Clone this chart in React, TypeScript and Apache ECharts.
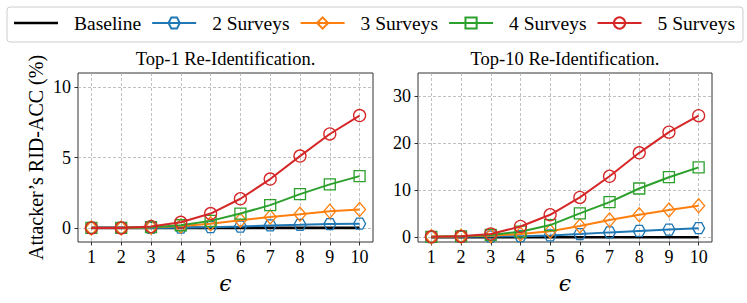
import React, { useEffect, useRef } from 'react';
import * as echarts from 'echarts';

// ---- data ----
const EPS = [1, 2, 3, 4, 5, 6, 7, 8, 9, 10];
const X_TICKS = [1, 2, 3, 4, 5, 6, 7, 8, 9, 10];
const TOP1_Y_TICKS = [0, 5, 10];
const TOP10_Y_TICKS = [0, 10, 20, 30];
const SERIES_NAMES = ['Baseline', '2 Surveys', '3 Surveys', '4 Surveys', '5 Surveys'];
const TITLES = ['Top-1 Re-Identification.', 'Top-10 Re-Identification.'];
const Y_NAME = 'Attacker\u2019s RID-ACC (%)';
const X_NAME = '\u03f5';

const TOP1_BASELINE = [0, 0, 0, 0, 0, 0, 0, 0, 0, 0];
const TOP1_S2 = [0, 0, 0, 0.02, 0.05, 0.1, 0.18, 0.22, 0.27, 0.3];
const TOP1_S3 = [0, 0, 0.04, 0.14, 0.3, 0.55, 0.78, 0.97, 1.18, 1.3];
const TOP1_S4 = [0, 0, 0.05, 0.19, 0.5, 1.02, 1.62, 2.4, 3.09, 3.68];
const TOP1_S5 = [0, 0, 0.1, 0.4, 1.02, 2.07, 3.47, 5.1, 6.67, 7.98];

const TOP10_BASELINE = [0, 0, 0, 0, 0, 0, 0, 0, 0, 0];
const TOP10_S2 = [0.05, 0.1, 0.15, 0.25, 0.4, 0.7, 1.05, 1.35, 1.65, 1.95];
const TOP10_S3 = [0.1, 0.2, 0.35, 0.7, 1.3, 2.4, 3.7, 4.8, 5.8, 6.7];
const TOP10_S4 = [0.1, 0.2, 0.5, 1.2, 2.6, 5.1, 7.5, 10.4, 12.8, 14.9];
const TOP10_S5 = [0.1, 0.2, 0.7, 2.3, 4.8, 8.5, 13.0, 18.0, 22.4, 25.9];

const PANELS = [
  [TOP1_BASELINE, TOP1_S2, TOP1_S3, TOP1_S4, TOP1_S5],
  [TOP10_BASELINE, TOP10_S2, TOP10_S3, TOP10_S4, TOP10_S5],
];

// ---- styles ----
const FONT = 'Liberation Serif';
const COLORS = ['#000000', '#1f77b4', '#ff7f0e', '#2ca02c', '#d62728'];
const HEX = 'path://M-1,0 L-0.5,-0.866 L0.5,-0.866 L1,0 L0.5,0.866 L-0.5,0.866 Z';
const SYMBOLS = ['none', HEX, 'diamond', 'rect', 'circle'];
const SYMBOL_SIZES: any[] = [0, [12, 11], [12, 14], 11, 12];

export default function App() {
  const ref = useRef<HTMLDivElement>(null);
  useEffect(() => {
    document.body.style.margin = '0';
    const chart = echarts.init(ref.current!, null, { renderer: 'svg' });

    const grids = [
      { left: 78, top: 73, width: 295, height: 169 },
      { left: 418, top: 73, width: 294, height: 169 },
    ];
    const yTicks = [TOP1_Y_TICKS, TOP10_Y_TICKS];
    const yRanges = [
      [-1, 11],
      [-1, 35],
    ];
    const splitLine = {
      show: true,
      lineStyle: { color: '#b0b0b0', width: 0.8, type: [3, 2] as any },
    };
    const labelStyle = { fontFamily: FONT, fontSize: 18, color: '#000' };

    const series: any[] = [];
    PANELS.forEach((panel, gi) => {
      panel.forEach((vals, si) => {
        const isBase = si === 0;
        series.push({
          name: SERIES_NAMES[si],
          type: 'line',
          xAxisIndex: gi,
          yAxisIndex: gi,
          data: EPS.map((e, i) => [e, vals[i]]),
          symbol: SYMBOLS[si],
          symbolSize: SYMBOL_SIZES[si],
          showSymbol: !isBase,
          smooth: false,
          z: isBase ? 1 : 2 + si,
          lineStyle: { color: COLORS[si], width: isBase ? 2.6 : 2 },
          itemStyle: isBase
            ? { color: COLORS[si] }
            : { color: 'rgba(255,255,255,0)', borderColor: COLORS[si], borderWidth: 1.3 },
          emphasis: { disabled: true },
        });
      });
    });

    chart.setOption({
      animation: false,
      title: TITLES.map((t, i) => ({
        text: t,
        left: grids[i].left + grids[i].width / 2,
        top: 49,
        textAlign: 'center',
        padding: 0,
        textStyle: { fontFamily: FONT, fontSize: 18.5, fontWeight: 'normal', color: '#000' },
      })),
      legend: {
        left: 7,
        top: 7,
        padding: [6, 8, 9, 7],
        itemGap: 10,
        itemWidth: 44,
        itemHeight: 14,
        borderColor: '#cccccc',
        borderWidth: 1,
        borderRadius: 3,
        backgroundColor: '#fff',
        textStyle: { fontFamily: FONT, fontSize: 19.5, color: '#000', lineHeight: 20, padding: [0, 0, 0, 11] },
        data: [
          { name: SERIES_NAMES[0], icon: 'path://M0,0 H44 V2.6 H0 Z' },
          SERIES_NAMES[1],
          SERIES_NAMES[2],
          SERIES_NAMES[3],
          SERIES_NAMES[4],
        ],
      },
      grid: grids.map((g) => ({
        ...g,
        show: true,
        borderColor: '#333',
        borderWidth: 1,
        backgroundColor: 'transparent',
        containLabel: false,
      })),
      xAxis: grids.map((g, i) => ({
        gridIndex: i,
        type: 'value',
        min: 0.55,
        max: 10.45,
        axisLine: { show: false, onZero: false },
        axisTick: { show: true, customValues: X_TICKS, length: 3.5, lineStyle: { color: '#000', width: 0.8 } },
        axisLabel: { customValues: X_TICKS, margin: 6, ...labelStyle },
        splitLine,
        name: X_NAME,
        nameLocation: 'middle',
        nameGap: 30,
        nameTextStyle: { fontFamily: 'DejaVu Serif', fontStyle: 'italic', fontSize: 22, color: '#000' },
      })),
      yAxis: grids.map((g, i) => ({
        gridIndex: i,
        type: 'value',
        min: yRanges[i][0],
        max: yRanges[i][1],
        axisLine: { show: false, onZero: false },
        axisTick: { show: true, customValues: yTicks[i], length: 3.5, lineStyle: { color: '#000', width: 0.8 } },
        axisLabel: { customValues: yTicks[i], margin: 7, ...labelStyle },
        splitLine,
        name: i === 0 ? Y_NAME : '',
        nameLocation: 'middle',
        nameGap: 32,
        nameTextStyle: { fontFamily: FONT, fontSize: 20, color: '#000' },
      })),
      series,
    });
    return () => chart.dispose();
  }, []);
  return <div ref={ref} style={{ width: 747, height: 303 }} />;
}
